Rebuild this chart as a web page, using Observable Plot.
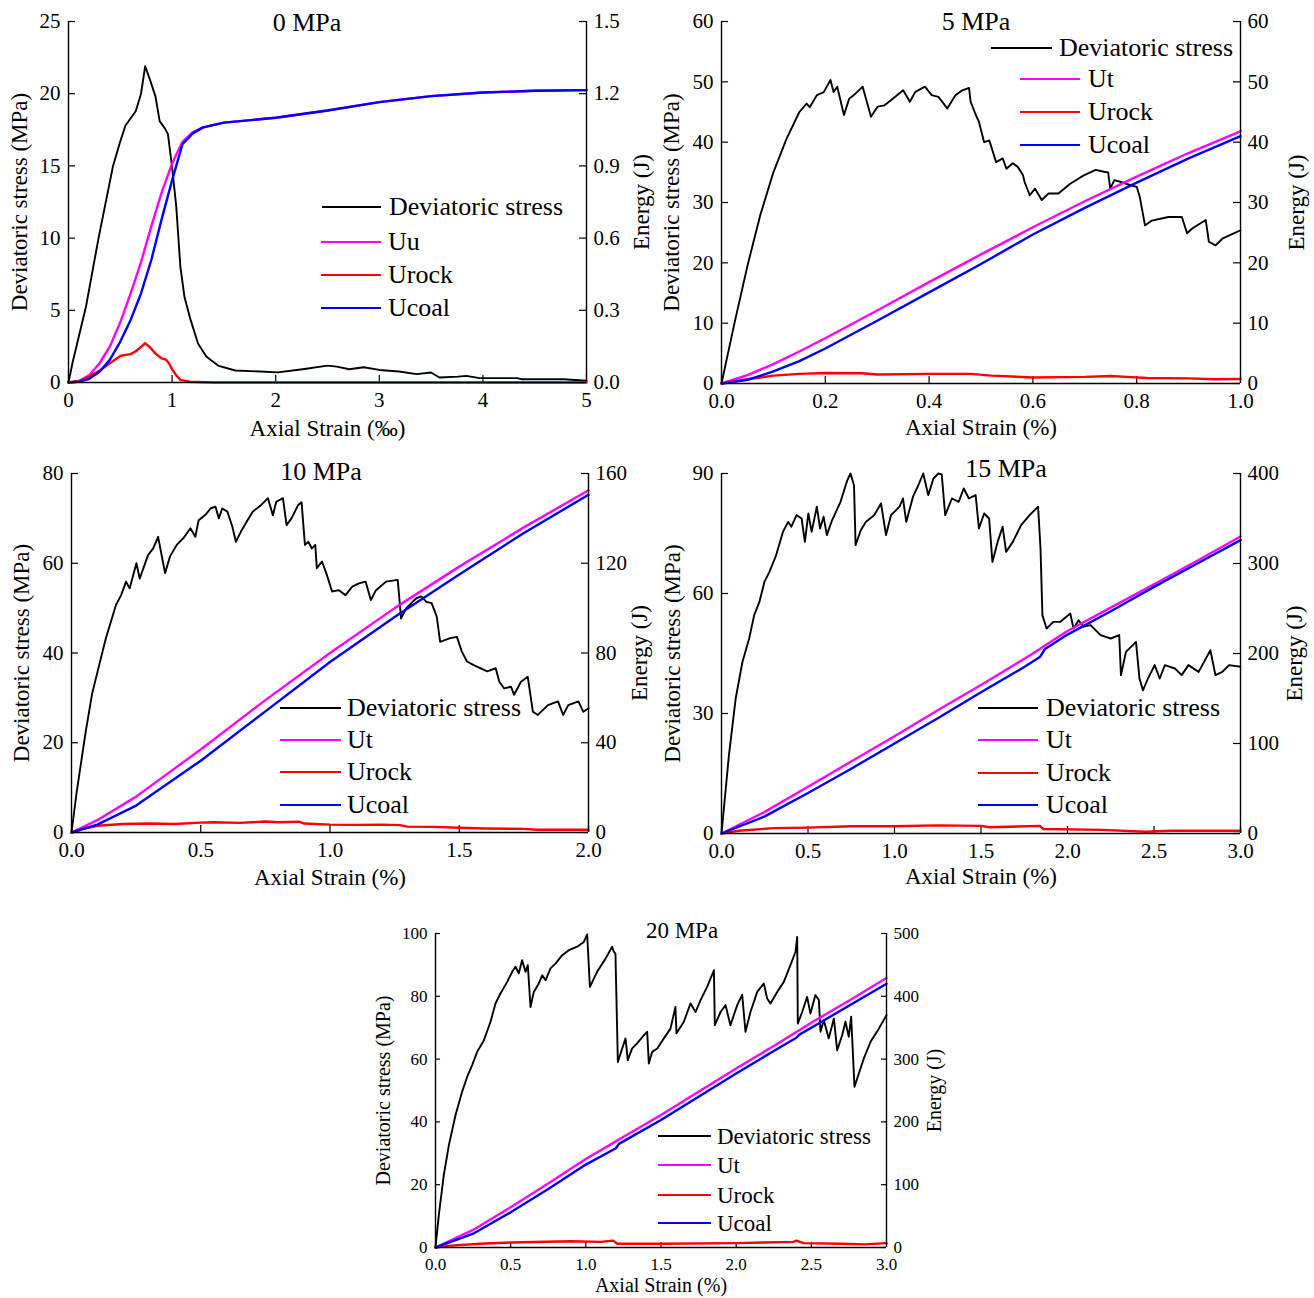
<!DOCTYPE html>
<html><head><meta charset="utf-8">
<script src="https://cdn.jsdelivr.net/npm/d3@7"></script>
<script src="https://cdn.jsdelivr.net/npm/@observablehq/plot@0.6"></script>
<style>
body{margin:0;background:#fff;}
#root{position:relative;width:1314px;height:1298px;overflow:hidden;background:#fff;font-family:"Liberation Serif","Times New Roman",Times,serif;}
.panel{position:absolute}
.panel svg, .panel svg text{font-family:"Liberation Serif","Times New Roman",Times,serif !important;}
.txt{position:absolute;white-space:nowrap;line-height:1;color:#000;font-family:"Liberation Serif","Times New Roman",Times,serif;}
.sw{position:absolute;height:0;border-top-style:solid;border-top-width:2.5px}
</style></head><body><div id="root"></div>
<script>
const FONT = '"Liberation Serif","Times New Roman",Times,serif';

// ===================== DATA =====================
const seriesColors = ["#000000", "#ff00ff", "#ff0000", "#0000ff"];

// ---- 0 MPa (strain in ‰, energy in J) ----
const ds0 = [[0,0],[0.04,1.4],[0.08,2.6],[0.17,5.3],[0.29,10],[0.43,15],[0.5,16.7],[0.55,17.8],[0.6,18.3],[0.65,18.8],[0.7,20],[0.74,21.9],[0.78,21.1],[0.84,19.8],[0.88,18.1],[0.93,17.6],[0.96,17.2],[1.0,14.9],[1.04,12.2],[1.08,8],[1.12,5.9],[1.18,4.3],[1.25,2.7],[1.33,1.8],[1.45,1.15],[1.61,0.83],[1.85,0.76],[2.02,0.7],[2.26,0.92],[2.5,1.17],[2.59,1.1],[2.71,0.92],[2.85,1.06],[3.0,0.87],[3.19,0.76],[3.36,0.58],[3.5,0.69],[3.58,0.35],[3.76,0.41],[3.84,0.46],[3.97,0.3],[4.33,0.3],[4.37,0.23],[4.78,0.23],[5.0,0.12]];
const ut0 = [[0,0],[0.1,0.006],[0.2,0.03],[0.3,0.08],[0.4,0.15],[0.5,0.25],[0.6,0.37],[0.7,0.5],[0.8,0.65],[0.9,0.79],[1.0,0.91],[1.1,1.0],[1.2,1.04],[1.3,1.06],[1.5,1.08],[2.0,1.1],[2.5,1.13],[3.0,1.165],[3.5,1.19],[4.0,1.205],[4.5,1.212],[5.0,1.215]];
const ucoal0 = [[0,0],[0.1,0.003],[0.2,0.015],[0.3,0.045],[0.4,0.095],[0.5,0.17],[0.6,0.26],[0.7,0.37],[0.8,0.51],[0.9,0.68],[1.0,0.84],[1.1,0.99],[1.2,1.035],[1.3,1.06],[1.5,1.08],[2.0,1.1],[2.5,1.13],[3.0,1.165],[3.5,1.19],[4.0,1.205],[4.5,1.212],[5.0,1.215]];
const urock0 = [[0,0],[0.1,0.005],[0.2,0.025],[0.3,0.05],[0.4,0.08],[0.5,0.11],[0.55,0.115],[0.6,0.118],[0.65,0.13],[0.7,0.148],[0.74,0.163],[0.79,0.145],[0.84,0.12],[0.9,0.1],[0.94,0.095],[0.97,0.08],[1.0,0.055],[1.04,0.03],[1.08,0.011],[1.17,0.003],[1.4,0],[5.0,0]];
const xTicks0 = [0,1,2,3,4,5], xLabels0 = ["0","1","2","3","4","5"];
const yTicks0 = [0,5,10,15,20,25], yLabels0 = ["0","5","10","15","20","25"];
const eTicks0 = [0,0.3,0.6,0.9,1.2,1.5], eLabels0 = ["0.0","0.3","0.6","0.9","1.2","1.5"];

// ---- 5 MPa ----
const ds5 = [[0,0],[0.025,10],[0.05,19.5],[0.075,28],[0.1,35],[0.125,40.5],[0.15,45],[0.164,46.4],[0.17,45.8],[0.184,47.8],[0.197,48.3],[0.21,50.3],[0.216,48.3],[0.223,49.2],[0.236,44.5],[0.246,47.2],[0.255,47.8],[0.272,49.2],[0.288,44.2],[0.301,45.9],[0.314,46.1],[0.327,47],[0.35,48.6],[0.363,46.7],[0.373,48.3],[0.392,49.2],[0.405,47.8],[0.418,47.5],[0.435,45.6],[0.451,47.8],[0.464,48.6],[0.477,49],[0.48,46.7],[0.49,44.5],[0.496,43.4],[0.506,40],[0.516,40.3],[0.529,36.7],[0.542,37.3],[0.549,35.6],[0.561,36.5],[0.571,35.9],[0.581,34.5],[0.584,33.4],[0.594,31.2],[0.604,32.3],[0.617,30.4],[0.63,31.5],[0.649,31.5],[0.672,33.1],[0.698,34.5],[0.721,35.4],[0.737,35.1],[0.745,35],[0.749,32.3],[0.757,33.7],[0.77,33.4],[0.787,32.9],[0.8,32.6],[0.806,30.9],[0.816,26.2],[0.829,27],[0.861,27.6],[0.887,27.6],[0.897,24.9],[0.907,25.7],[0.933,27.1],[0.939,23.5],[0.952,22.9],[0.965,24],[1.0,25.4]];
const ut5 = [[0,0],[0.05,1.4],[0.1,3.2],[0.15,5.3],[0.2,7.5],[0.3,12.1],[0.4,16.8],[0.5,21.4],[0.6,25.9],[0.7,30.2],[0.8,34.3],[0.9,38.2],[1.0,41.8]];
const ucoal5 = [[0,0],[0.05,0.6],[0.1,2.0],[0.15,3.7],[0.2,5.8],[0.3,10.4],[0.4,15.1],[0.5,19.8],[0.6,24.7],[0.7,29.1],[0.8,33.3],[0.9,37.3],[1.0,41.0]];
const urock5 = [[0,0],[0.05,0.7],[0.1,1.3],[0.15,1.6],[0.2,1.75],[0.27,1.7],[0.3,1.5],[0.4,1.6],[0.48,1.6],[0.52,1.3],[0.6,1.0],[0.7,1.1],[0.75,1.25],[0.78,1.1],[0.82,0.9],[0.9,0.85],[0.95,0.7],[1.0,0.75]];
const xTicks5 = [0,0.2,0.4,0.6,0.8,1.0], xLabels5 = ["0.0","0.2","0.4","0.6","0.8","1.0"];
const yTicks5 = [0,10,20,30,40,50,60], yLabels5 = ["0","10","20","30","40","50","60"];
const eTicks5 = [0,10,20,30,40,50,60], eLabels5 = ["0","10","20","30","40","50","60"];

// ---- 10 MPa ----
const ds10 = [[0,0],[0.02,9],[0.055,22.5],[0.08,31],[0.107,37.3],[0.133,43.3],[0.172,50.7],[0.192,52.9],[0.211,55.9],[0.225,54.4],[0.251,60],[0.264,56.6],[0.296,61.8],[0.316,63.3],[0.335,65.9],[0.362,57.8],[0.381,61.5],[0.407,64.1],[0.433,65.6],[0.46,67.8],[0.479,65.9],[0.492,69.6],[0.518,70.8],[0.538,72.2],[0.557,72.6],[0.57,70],[0.583,72.2],[0.603,71.5],[0.622,68.2],[0.636,64.8],[0.655,67],[0.681,69.6],[0.701,71.5],[0.734,73],[0.76,74.5],[0.779,70.7],[0.792,73.7],[0.818,74.5],[0.832,68.5],[0.851,70],[0.877,73],[0.89,73.6],[0.903,64.1],[0.916,64.8],[0.93,63.3],[0.943,64.1],[0.949,58.9],[0.969,60.4],[0.988,57.4],[1.008,53.7],[1.034,54],[1.06,52.9],[1.086,54.8],[1.112,55.5],[1.138,55.9],[1.158,51.8],[1.178,54],[1.217,55.9],[1.262,56.3],[1.275,47.7],[1.295,50],[1.334,52.2],[1.353,52.6],[1.373,51.4],[1.393,51.1],[1.413,48.1],[1.426,42.5],[1.465,43.3],[1.491,43.6],[1.51,40.3],[1.53,38.1],[1.556,37.3],[1.608,35.9],[1.641,36.6],[1.655,33.6],[1.674,32.1],[1.7,32.5],[1.712,30.7],[1.739,33.6],[1.765,34.7],[1.785,26.9],[1.804,26.2],[1.843,28.4],[1.882,29.2],[1.902,26.2],[1.922,28.4],[1.961,29.2],[1.98,26.9],[2.0,27.7]];
const ut10 = [[0,0],[0.1,5.5],[0.25,16],[0.5,37],[0.75,59],[1.0,80],[1.25,100],[1.5,118.5],[1.75,136],[2.0,152.5]];
const ucoal10 = [[0,0],[0.1,3.5],[0.25,12],[0.5,32],[0.75,54],[1.0,76],[1.25,96],[1.5,115],[1.75,133.5],[2.0,150.5]];
const urock10 = [[0,0],[0.05,1.8],[0.1,3],[0.2,3.8],[0.3,4.0],[0.4,3.8],[0.5,4.4],[0.55,4.6],[0.65,4.3],[0.75,4.9],[0.8,4.6],[0.88,4.8],[0.9,4.0],[1.0,3.5],[1.1,3.4],[1.2,3.5],[1.27,3.3],[1.3,2.6],[1.4,2.5],[1.5,2.1],[1.6,1.8],[1.75,1.6],[1.8,1.2],[2.0,1.2]];
const xTicks10 = [0,0.5,1,1.5,2], xLabels10 = ["0.0","0.5","1.0","1.5","2.0"];
const yTicks10 = [0,20,40,60,80], yLabels10 = ["0","20","40","60","80"];
const eTicks10 = [0,40,80,120,160], eLabels10 = ["0","40","80","120","160"];

// ---- 15 MPa ----
const ds15 = [[0,0],[0.043,19.6],[0.082,33.75],[0.121,42.9],[0.16,48.75],[0.189,54.6],[0.219,57.9],[0.248,62.9],[0.277,65.4],[0.316,69.6],[0.355,75.4],[0.385,77.9],[0.404,76.7],[0.434,79.6],[0.463,78.75],[0.482,72.9],[0.502,80],[0.521,75.4],[0.551,81.7],[0.57,76.25],[0.59,79.2],[0.609,74.6],[0.639,78.3],[0.688,82.9],[0.727,88.3],[0.746,90],[0.766,87],[0.775,72.1],[0.805,75.8],[0.834,77.9],[0.883,79.6],[0.922,82.5],[0.951,74.6],[0.98,79.6],[1.029,81.7],[1.049,83.75],[1.068,77.9],[1.107,84.2],[1.137,87],[1.166,90],[1.195,84.6],[1.225,88.75],[1.254,90],[1.273,89.8],[1.293,79.6],[1.332,83.75],[1.371,82.9],[1.4,86.25],[1.43,83.75],[1.469,84.6],[1.488,76.25],[1.518,80],[1.547,78.75],[1.566,67.9],[1.596,72.9],[1.625,76.7],[1.645,70.4],[1.684,72.9],[1.732,77.1],[1.781,79.6],[1.83,81.7],[1.844,71.25],[1.855,54.6],[1.879,51.25],[1.918,52.9],[1.957,52.9],[2.016,55],[2.035,51.25],[2.064,53.3],[2.094,51.7],[2.133,52.1],[2.191,49.6],[2.25,48.75],[2.299,49.6],[2.309,39.6],[2.338,45.4],[2.396,47.9],[2.416,38.75],[2.436,35.8],[2.465,38.75],[2.504,42.1],[2.533,38.75],[2.563,42.1],[2.621,41.25],[2.66,39.6],[2.699,42.1],[2.758,40.4],[2.826,45.8],[2.855,39.6],[2.895,40.4],[2.934,42.1],[3.0,41.7]];
const ut15 = [[0,0],[0.25,24],[0.5,52],[0.75,80],[1.0,108],[1.25,137],[1.5,165],[1.75,194],[1.84,205],[1.87,209],[2.0,225],[2.25,251],[2.5,277],[2.75,303],[3.0,330]];
const ucoal15 = [[0,0],[0.25,19],[0.5,45],[0.75,72],[1.0,100],[1.25,128],[1.5,157],[1.75,185],[1.84,196],[1.87,205],[2.0,221],[2.25,247],[2.5,274],[2.75,300],[3.0,326]];
const urock15 = [[0,0],[0.1,3],[0.3,6],[0.5,6.5],[0.75,8],[1.0,8],[1.25,9],[1.5,8.5],[1.55,7],[1.84,8.5],[1.86,5],[2.2,4],[2.45,2],[2.6,3],[3.0,3]];
const xTicks15 = [0,0.5,1,1.5,2,2.5,3], xLabels15 = ["0.0","0.5","1.0","1.5","2.0","2.5","3.0"];
const yTicks15 = [0,30,60,90], yLabels15 = ["0","30","60","90"];
const eTicks15 = [0,100,200,300,400], eLabels15 = ["0","100","200","300","400"];

// ---- 20 MPa ----
const ds20 = [[0,0],[0.022,10.3],[0.055,23],[0.089,32.6],[0.133,42.1],[0.177,49.6],[0.211,54.4],[0.244,58.1],[0.277,62.3],[0.322,66],[0.366,71.9],[0.399,77.7],[0.432,80.9],[0.477,84.6],[0.51,87.8],[0.532,89.4],[0.554,87.3],[0.576,91.5],[0.599,87.8],[0.614,89.9],[0.632,76.6],[0.654,81.4],[0.687,84.1],[0.71,86.7],[0.732,85.1],[0.765,88.9],[0.798,90.4],[0.843,93.1],[0.887,94.7],[0.942,95.8],[0.987,97.3],[1.009,99.7],[1.027,83],[1.075,87.8],[1.131,92],[1.175,95.8],[1.186,94.2],[1.197,93.6],[1.213,59.1],[1.242,63.4],[1.264,66.6],[1.279,59.7],[1.308,63.4],[1.341,65],[1.386,67.6],[1.408,68.7],[1.419,58.6],[1.441,62.3],[1.475,63.4],[1.519,66.6],[1.563,69.7],[1.596,76.6],[1.603,68.2],[1.652,71.9],[1.696,77.7],[1.73,75],[1.763,78.8],[1.807,83],[1.852,88.3],[1.858,70.8],[1.896,75],[1.929,77.2],[1.962,70.8],[2.007,77.2],[2.04,80.5],[2.062,68.7],[2.095,75],[2.14,81.4],[2.184,84.1],[2.206,79.3],[2.228,77.7],[2.273,81.4],[2.317,84.6],[2.361,89.9],[2.395,94.2],[2.406,98.9],[2.41,71.3],[2.439,75],[2.472,79.8],[2.494,74.5],[2.527,80.4],[2.55,78.8],[2.561,68.7],[2.583,72.4],[2.616,66.6],[2.65,72.9],[2.672,62.8],[2.705,67.6],[2.727,71.9],[2.749,67.1],[2.765,73.5],[2.787,51.2],[2.849,60.2],[2.894,65.5],[2.949,69.7],[3.0,74]];
const ut20 = [[0,0],[0.25,28],[0.5,64],[0.75,102],[1.0,141],[1.2,169],[1.22,172],[1.5,211],[1.75,248],[2.0,285],[2.25,321],[2.4,343],[2.42,346],[2.5,358],[2.75,393],[3.0,429]];
const ucoal20 = [[0,0],[0.25,22],[0.5,56],[0.75,93],[1.0,132],[1.2,158],[1.22,165],[1.5,203],[1.75,240],[2.0,277],[2.25,313],[2.4,334],[2.42,339],[2.5,350],[2.75,385],[3.0,420]];
const urock20 = [[0,0],[0.1,3],[0.3,6],[0.5,8],[0.9,10],[1.1,9],[1.18,11],[1.21,6],[1.5,6],[2.0,7],[2.38,9],[2.4,11],[2.45,7],[2.7,6],[2.85,5],[3.0,7]];
const xTicks20 = [0,0.5,1,1.5,2,2.5,3], xLabels20 = ["0.0","0.5","1.0","1.5","2.0","2.5","3.0"];
const yTicks20 = [0,20,40,60,80,100], yLabels20 = ["0","20","40","60","80","100"];
const eTicks20 = [0,100,200,300,400,500], eLabels20 = ["0","100","200","300","400","500"];

// ===================== PANEL SETUP =====================
const panels = [
  {title:"0 MPa", ds:ds0, ut:ut0, urock:urock0, ucoal:ucoal0, names:["Deviatoric stress","Uu","Urock","Ucoal"],
   xLabel:"Axial Strain (‰)", xTicks:xTicks0, xLabels:xLabels0, yTicks:yTicks0, yLabels:yLabels0, eTicks:eTicks0, eLabels:eLabels0,
   xDomain:[0,5], yMax:25, eMax:1.5,
   left:0, top:0, width:660, height:445, ml:68, mr:74, mt:21, mb:63,
   tick:7, tickFont:21, labelFont:23, lblL:58, lblR:62, lblX:53,
   titleX:307, titleY:23, titleFont:26,
   leg:{font:26, rows:[207,242,275,308], x1:[322,321,321,321], x2:[381,381,381,381], tx:[389,388,388,388]}},
  {title:"5 MPa", ds:ds5, ut:ut5, urock:urock5, ucoal:ucoal5, names:["Deviatoric stress","Ut","Urock","Ucoal"],
   xLabel:"Axial Strain (%)", xTicks:xTicks5, xLabels:xLabels5, yTicks:yTicks5, yLabels:yLabels5, eTicks:eTicks5, eLabels:eLabels5,
   xDomain:[0,1], yMax:60, eMax:60,
   left:660, top:0, width:654, height:445, ml:61, mr:74, mt:21, mb:62,
   tick:7, tickFont:21, labelFont:23, lblL:59, lblR:63, lblX:51,
   titleX:976, titleY:22, titleFont:26,
   leg:{font:26, rows:[48,79,112,145], x1:[991,1020,1020,1020], x2:[1052,1080,1080,1080], tx:[1059,1088,1088,1088]}},
  {title:"10 MPa", ds:ds10, ut:ut10, urock:urock10, ucoal:ucoal10, names:["Deviatoric stress","Ut","Urock","Ucoal"],
   xLabel:"Axial Strain (%)", xTicks:xTicks10, xLabels:xLabels10, yTicks:yTicks10, yLabels:yLabels10, eTicks:eTicks10, eLabels:eLabels10,
   xDomain:[0,2], yMax:80, eMax:160,
   left:0, top:450, width:660, height:445, ml:71, mr:72, mt:23, mb:63,
   tick:7, tickFont:21, labelFont:23, lblL:59, lblR:58, lblX:52,
   titleX:321, titleY:472, titleFont:26,
   leg:{font:26, rows:[708,740,772,805], x1:[280,280,280,280], x2:[341,341,341,341], tx:[347,347,347,347]}},
  {title:"15 MPa", ds:ds15, ut:ut15, urock:urock15, ucoal:ucoal15, names:["Deviatoric stress","Ut","Urock","Ucoal"],
   xLabel:"Axial Strain (%)", xTicks:xTicks15, xLabels:xLabels15, yTicks:yTicks15, yLabels:yLabels15, eTicks:eTicks15, eLabels:eLabels15,
   xDomain:[0,3], yMax:90, eMax:400,
   left:660, top:450, width:654, height:445, ml:61, mr:74, mt:23, mb:62,
   tick:7, tickFont:21, labelFont:23, lblL:58, lblR:61, lblX:50,
   titleX:1006, titleY:469, titleFont:26,
   leg:{font:26, rows:[708,740,773,805], x1:[978,978,978,978], x2:[1038,1038,1038,1038], tx:[1046,1046,1046,1046]}},
  {title:"20 MPa", ds:ds20, ut:ut20, urock:urock20, ucoal:ucoal20, names:["Deviatoric stress","Ut","Urock","Ucoal"],
   xLabel:"Axial Strain (%)", xTicks:xTicks20, xLabels:xLabels20, yTicks:yTicks20, yLabels:yLabels20, eTicks:eTicks20, eLabels:eLabels20,
   xDomain:[0,3], yMax:100, eMax:500,
   left:365, top:910, width:590, height:388, ml:70, mr:69, mt:23, mb:51,
   tick:5, tickFont:17, labelFont:20, lblL:60, lblR:54, lblX:44,
   titleX:682, titleY:930, titleFont:23,
   leg:{font:23, rows:[1136,1165,1195,1223], x1:[658,658,658,658], x2:[711,711,711,711], tx:[717,717,717,717]}}
];

const root = document.getElementById("root");

function addText(str, x, y, size, center) {
  const d = document.createElement("div");
  d.className = "txt";
  d.textContent = str;
  d.style.fontSize = size + "px";
  d.style.left = x + "px";
  d.style.top = (y - size * 0.5) + "px";
  if (center) d.style.transform = "translateX(-50%)";
  root.appendChild(d);
}
function addSwatch(x1, x2, y, color) {
  const d = document.createElement("div");
  d.className = "sw";
  d.style.left = x1 + "px";
  d.style.width = (x2 - x1) + "px";
  d.style.top = (y - 1.25) + "px";
  d.style.borderTopColor = color;
  root.appendChild(d);
}

function buildPanel(c) {
  const k = c.yMax / c.eMax;
  const pw = c.width - c.ml - c.mr, ph = c.height - c.mt - c.mb;
  const toPts = arr => arr.map(([x, y]) => ({x, y}));
  const toE = arr => arr.map(([x, e]) => ({x, y: e * k}));
  const ePos = c.eTicks.map(e => e * k);
  const eMap = new Map(ePos.map((p, i) => [p, c.eLabels[i]]));
  const yMap = new Map(c.yTicks.map((p, i) => [p, c.yLabels[i]]));
  const xMap = new Map(c.xTicks.map((p, i) => [p, c.xLabels[i]]));
  const tf = {fontFamily: FONT, fontSize: c.tickFont};
  const lf = {fontFamily: FONT, fontSize: c.labelFont};
  const svg = Plot.plot({
    width: c.width, height: c.height,
    marginLeft: c.ml, marginRight: c.mr, marginTop: c.mt, marginBottom: c.mb,
    style: {fontFamily: FONT, fontSize: c.tickFont + "px", color: "#000", background: "transparent", overflow: "visible"},
    x: {domain: c.xDomain},
    y: {domain: [0, c.yMax]},
    marks: [
      Plot.ruleY(c.yTicks, {y: d => d, stroke: "#000", strokeWidth: 1.2, insetRight: pw - c.tick}),
      Plot.ruleY(ePos, {y: d => d, stroke: "#000", strokeWidth: 1.2, insetLeft: pw - c.tick}),
      Plot.ruleX(c.xTicks, {x: d => d, stroke: "#000", strokeWidth: 1.2, insetTop: ph - c.tick}),
      Plot.line(toPts(c.ds), {x: "x", y: "y", stroke: seriesColors[0], strokeWidth: 1.9}),
      Plot.line(toE(c.ut), {x: "x", y: "y", stroke: seriesColors[1], strokeWidth: 2.4}),
      Plot.line(toE(c.urock), {x: "x", y: "y", stroke: seriesColors[2], strokeWidth: 2.4}),
      Plot.line(toE(c.ucoal), {x: "x", y: "y", stroke: seriesColors[3], strokeWidth: 2.4}),
      Plot.ruleX([c.xDomain[0], c.xDomain[1]], {stroke: "#000", strokeWidth: 1.4}),
      Plot.ruleY([0], {stroke: "#000", strokeWidth: 1.4}),
      Plot.axisY(c.yTicks, {anchor: "left", tickSize: 0, tickPadding: 8, tickFormat: d => yMap.get(d), label: null, ...tf}),
      Plot.axisY(ePos, {anchor: "right", tickSize: 0, tickPadding: 7, tickFormat: d => eMap.get(d), label: null, ...tf}),
      Plot.axisX(c.xTicks, {anchor: "bottom", tickSize: 0, tickPadding: 10, tickFormat: d => xMap.get(d), label: null, ...tf}),
      Plot.axisY([], {anchor: "left", tickSize: 0, label: "Deviatoric stress (MPa)", labelAnchor: "center", labelArrow: "none", labelOffset: c.lblL, ...lf}),
      Plot.axisY([], {anchor: "right", tickSize: 0, label: "Energy (J)", labelAnchor: "center", labelArrow: "none", labelOffset: c.lblR, ...lf}),
      Plot.axisX([], {anchor: "bottom", tickSize: 0, label: c.xLabel, labelAnchor: "center", labelArrow: "none", labelOffset: c.lblX, ...lf})
    ]
  });
  const wrap = document.createElement("div");
  wrap.className = "panel";
  wrap.style.left = c.left + "px";
  wrap.style.top = c.top + "px";
  wrap.style.width = c.width + "px";
  wrap.style.height = c.height + "px";
  wrap.appendChild(svg);
  root.appendChild(wrap);

  addText(c.title, c.titleX, c.titleY, c.titleFont, true);
  c.names.forEach((name, i) => {
    addSwatch(c.leg.x1[i], c.leg.x2[i], c.leg.rows[i], seriesColors[i]);
    addText(name, c.leg.tx[i], c.leg.rows[i], c.leg.font, false);
  });
}

panels.forEach(buildPanel);
</script>
</body></html>
